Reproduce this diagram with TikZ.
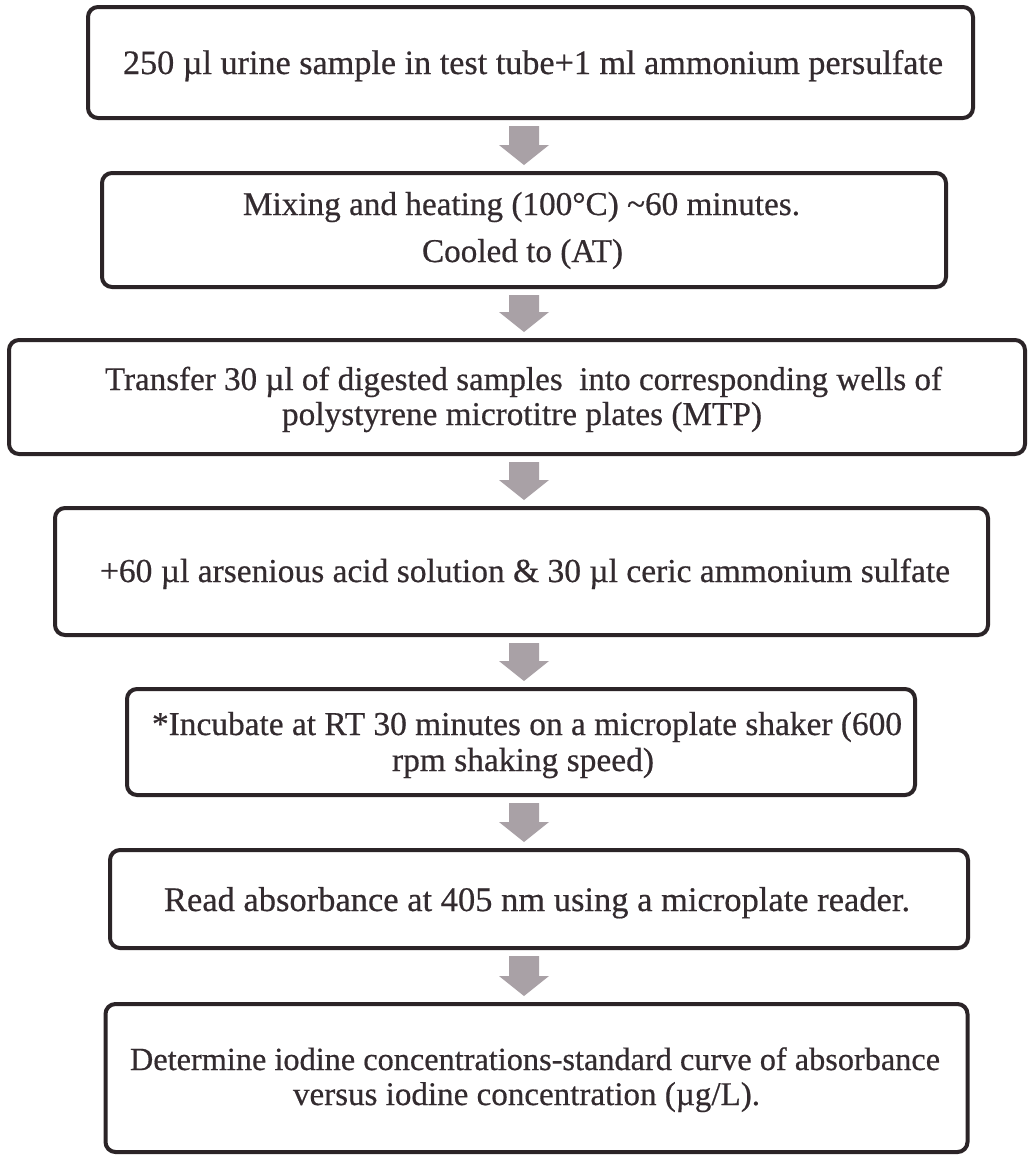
\documentclass[tikz,border=0pt]{standalone}
\usepackage{fontspec}
\setmainfont[FakeBold=0.5]{Liberation Serif}
\usetikzlibrary{calc}
\definecolor{boxline}{HTML}{2B2427}
\definecolor{txtcol}{HTML}{332B2F}
\definecolor{arrowcol}{HTML}{A9A1A6}
\newlength\fitw
% font size (stored in #1) that makes text #4 span from x=#2 to x=#3
\newcommand\measure[4]{%
  \settowidth\fitw{\fontsize{30}{36}\selectfont #4}%
  \pgfmathsetmacro#1{(#3-#2)/\fitw*30}}
% grey block arrow from box #1 to box #2
\newcommand\flowarrow[2]{%
  \path (#1.south -| ax) ++(0,6) coordinate (at) (#2.north -| ax) ++(0,-6) coordinate (ab);
  \fill[arrowcol] ($(at)+(-15,0)$) -- ($(at)+(15,0)$) -- ($(ab)+(15,-20)$) -- ($(ab)+(25,-20)$)
    -- (ab) -- ($(ab)+(-25,-20)$) -- ($(ab)+(-15,-20)$) -- cycle;}
\newcommand\txtA{250 µl urine sample in test tube+1 ml ammonium persulfate}
\newcommand\txtB{Mixing and heating (100°C) \textasciitilde60 minutes.}
\newcommand\txtBb{Cooled to (AT)}
\newcommand\txtC{Transfer 30 µl of digested samples\ \ into corresponding wells of}
\newcommand\txtCb{polystyrene microtitre plates (MTP)}
\newcommand\txtD{+60 µl arsenious acid solution \& 30 µl ceric ammonium sulfate}
\newcommand\txtE{*Incubate at RT 30 minutes on a microplate shaker (600}
\newcommand\txtEb{rpm shaking speed)}
\newcommand\txtF{Read absorbance at 405 nm using a microplate reader.}
\newcommand\txtG{Determine iodine concentrations-standard curve of absorbance}
\newcommand\txtGb{versus iodine concentration (µg/L).}
\begin{document}
\measure\szA{123}{943}{\txtA}%
\measure\szB{243}{800}{\txtB}%
\measure\szBb{422}{623}{\txtBb}%
\measure\szC{105}{942}{\txtC}%
\measure\szCb{282}{762}{\txtCb}%
\measure\szD{100}{950}{\txtD}%
\measure\szE{152}{902}{\txtE}%
\measure\szEb{392}{654}{\txtEb}%
\measure\szF{164}{910}{\txtF}%
\measure\szG{130}{940}{\txtG}%
\measure\szGb{293}{760}{\txtGb}%
\begin{tikzpicture}[x=1pt,y=-1pt,
  box/.style={draw=boxline, line width=4pt, rounded corners=10pt, fill=white, inner sep=0pt},
  txt/.style={text=txtcol, inner sep=0pt, outer sep=0pt, anchor=base west},
  sz/.style={font=\fontsize{#1}{#1}\selectfont}]
\useasboundingbox[fill=white] (0,0) rectangle (1030,1157);
\coordinate (ax) at (524,0);
% boxes
\node[box, minimum width=885pt, minimum height=111pt] (b1) at (530.5,62.5) {};
\node[box, minimum width=844pt, minimum height=114pt] (b2) at (524,230) {};
\node[box, minimum width=1016pt, minimum height=114pt] (b3) at (517,397) {};
\node[box, minimum width=933pt, minimum height=127pt] (b4) at (521.5,571.5) {};
\node[box, minimum width=788pt, minimum height=106pt] (b5) at (521,742) {};
\node[box, minimum width=858pt, minimum height=98pt] (b6) at (539,899) {};
\node[box, minimum width=862pt, minimum height=148pt] (b7) at (536.5,1078) {};
% texts
\node[txt, sz=\szA] (t1) at (123,74) {\txtA};
\node[txt, sz=\szB] (t2a) at (243,215) {\txtB};
\node[txt, sz=\szBb] (t2b) at (422,262) {\txtBb};
\node[txt, sz=\szC] (t3a) at (105,390) {\txtC};
\node[txt, sz=\szCb] (t3b) at (282,425) {\txtCb};
\node[txt, sz=\szD] (t4) at (100,582) {\txtD};
\node[txt, sz=\szE] (t5a) at (152,735) {\txtE};
\node[txt, sz=\szEb] (t5b) at (392,771) {\txtEb};
\node[txt, sz=\szF] (t6) at (164,911) {\txtF};
\node[txt, sz=\szG] (t7a) at (130,1070) {\txtG};
\node[txt, sz=\szGb] (t7b) at (293,1105) {\txtGb};
% arrows
\flowarrow{b1}{b2}
\flowarrow{b2}{b3}
\flowarrow{b3}{b4}
\flowarrow{b4}{b5}
\flowarrow{b5}{b6}
\flowarrow{b6}{b7}
\end{tikzpicture}
\end{document}
